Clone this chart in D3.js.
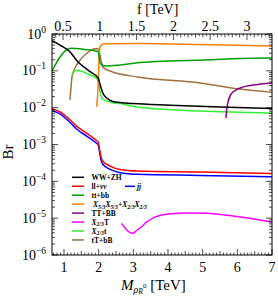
<!DOCTYPE html>
<html><head><meta charset="utf-8">
<script src="https://cdn.jsdelivr.net/npm/d3@7"></script>
<style>body{margin:0;background:#fff}svg{display:block}text{font-family:"Liberation Serif","DejaVu Serif",serif}</style>
</head><body>
<script>
// ---- data ----
const M_WW = [0.654,0.885,1.17,1.36,1.75,1.99,2.02,2.07,2.12,2.24,2.41,2.62,3.0,4.06,5.5,7.0];
const BR_WW = [0.66,0.50,0.33,0.195,0.095,0.063,0.050,0.034,0.025,0.018,0.0147,0.0138,0.0129,0.0117,0.0104,0.0095];
const M_LL = [0.654,0.885,1.17,1.37,1.66,1.93,1.99,2.03,2.07,2.12,2.33,2.62,3.13,4.92,7.0];
const BR_LL = [0.0092,0.0077,0.0047,0.0031,0.0020,0.0013,0.00115,0.0007,0.00045,0.00035,0.00026,0.00021,0.00019,0.000178,0.000162];
const M_JJ = M_LL;
const BR_JJ = [0.0082,0.0068,0.0040,0.0026,0.00167,0.0011,0.00096,0.00059,0.00037,0.00029,0.00021,0.000172,0.000155,0.000145,0.000132];
const M_TT = [0.654,0.885,1.06,1.2,1.6,1.98,2.02,2.04,2.1,2.21,2.62,3.19,4.0,5.07,6.08,7.0];
const BR_TT = [0.099,0.237,0.367,0.41,0.38,0.335,0.22,0.163,0.144,0.135,0.144,0.168,0.185,0.196,0.216,0.223];
const M_XX = [1.94,1.97,1.995,2.02,2.05,2.1,2.2,3.19,4.92,7.0];
const BR_XX = [0.0105,0.022,0.078,0.324,0.47,0.52,0.54,0.55,0.52,0.47];
const M_TTBB = [5.67,5.70,5.73,5.82,5.96,6.13,6.45,7.0];
const BR_TTBB = [0.0052,0.0098,0.0141,0.0234,0.030,0.0355,0.041,0.047];
const M_X23T = [2.66,2.79,2.90,2.99,3.08,3.19,3.39,3.62,4.09,4.58,5.07,6.02,7.0];
const BR_X23T = [7.2e-6,5.0e-6,4.1e-6,3.9e-6,4.5e-6,5.4e-6,7.9e-6,1.07e-5,1.32e-5,1.38e-5,1.35e-5,1.10e-5,7.9e-6];
const M_X23t = [1.23,1.30,1.40,1.75,1.95,2.0,2.04,2.12,2.33,2.62,3.13,4.92,7.0];
const BR_X23t = [0.077,0.099,0.102,0.077,0.062,0.047,0.027,0.017,0.0141,0.0129,0.0104,0.0081,0.0071];
const M_tT = [1.17,1.2,1.23,1.32,1.46,1.66,1.89,1.98,2.02,2.06,2.12,2.33,3.13,4.92,6.08,7.0];
const BR_tT = [0.0162,0.034,0.068,0.12,0.195,0.30,0.40,0.40,0.33,0.21,0.126,0.099,0.068,0.047,0.032,0.026];

const xTicks = [1,2,3,4,5,6,7];
const fTicks = [0.5,1,1.5,2,2.5,3];
const yExps = [0,-1,-2,-3,-4,-5,-6];

const series = [
  {name:"WW+ZH", m:M_WW, br:BR_WW, color:"#000000"},
  {name:"ll+vv", m:M_LL, br:BR_LL, color:"#ff0000"},
  {name:"jj", m:M_JJ, br:BR_JJ, color:"#0000ff"},
  {name:"tt+bb", m:M_TT, br:BR_TT, color:"#00a000"},
  {name:"XX", m:M_XX, br:BR_XX, color:"#ff8000"},
  {name:"TT+BB", m:M_TTBB, br:BR_TTBB, color:"#8c008c"},
  {name:"X23T", m:M_X23T, br:BR_X23T, color:"#ff00ff"},
  {name:"X23t", m:M_X23t, br:BR_X23t, color:"#33ee33"},
  {name:"tT+bB", m:M_tT, br:BR_tT, color:"#a0703c"}
];

// ---- layout ----
const W=278,H=299, L=52, R=272, T=34, B=255;
const svg=d3.select("body").append("svg").attr("width",W).attr("height",H);
const x=d3.scaleLinear().domain([0.654,7]).range([L,R]);
const xf=d3.scaleLinear().domain([0.35,3.34]).range([L,R]);
const y=d3.scaleLog().domain([1e-6,1]).range([B,T]);

svg.append("clipPath").attr("id","c").append("rect").attr("x",L).attr("y",T).attr("width",R-L).attr("height",B-T);
const line=d3.line().x(d=>x(d[0])).y(d=>y(d[1])).curve(d3.curveMonotoneX);
const g=svg.append("g").attr("clip-path","url(#c)");
const order=["tT+bB","X23t","X23T","TT+BB","XX","tt+bb","jj","ll+vv","WW+ZH"];
order.forEach(n=>{const s=series.find(q=>q.name===n);
  g.append("path").attr("d",line(s.m.map((m,i)=>[m,s.br[i]]))).attr("fill","none").attr("stroke",s.color).attr("stroke-width",1.5);
});

// frame
svg.append("rect").attr("x",L).attr("y",T).attr("width",R-L).attr("height",B-T).attr("fill","none").attr("stroke","#000").attr("stroke-width",1);

// ticks
const tk=svg.append("g").attr("stroke","#000").attr("stroke-width",0.7);
for(let v=0.7; v<=7.0001; v+=0.1){const vv=Math.round(v*10)/10; const px=x(vv); if(px<L+0.5) continue;
  const len = Number.isInteger(vv)?6:(Math.abs(vv*2-Math.round(vv*2))<1e-6?4:2.5);
  tk.append("line").attr("x1",px).attr("x2",px).attr("y1",B).attr("y2",B-len);}
for(let v=0.35; v<=3.34; v+=0.05){const vv=Math.round(v*100)/100; const px=xf(vv); if(px<L+0.5||px>R-0.5) continue;
  const isMaj=Math.abs(vv*2-Math.round(vv*2))<1e-6; const isMid=Math.abs(vv*10-Math.round(vv*10))<1e-6;
  const len=isMaj?6:(isMid?3.5:2.2);
  tk.append("line").attr("x1",px).attr("x2",px).attr("y1",T).attr("y2",T+len);}
for(let e=-6;e<=0;e++){for(let k=1;k<=9;k++){const v=k*Math.pow(10,e); if(v>1) continue; const py=y(v);
  const len=k===1?6:3;
  tk.append("line").attr("x1",L).attr("x2",L+len).attr("y1",py).attr("y2",py);
  tk.append("line").attr("x1",R).attr("x2",R-len).attr("y1",py).attr("y2",py);}}

// tick labels
const fs=14;
xTicks.forEach(v=>svg.append("text").attr("x",x(v)).attr("y",272).attr("text-anchor","middle").attr("font-size",fs).text(v));
fTicks.forEach(v=>svg.append("text").attr("x",xf(v)).attr("y",31).attr("text-anchor","middle").attr("font-size",fs).text(v));
yExps.forEach(e=>{const t=svg.append("text").attr("x",46).attr("y",y(Math.pow(10,e))+4.5).attr("text-anchor","end").attr("font-size",fs);
  t.append("tspan").text("10");
  t.append("tspan").attr("font-size",9.5).attr("dy",-6).text(e===0?"0":"\u2212"+(-e));});

// axis titles
svg.append("text").attr("x",137).attr("y",14).attr("font-size",14).text("f [TeV]");
svg.append("text").attr("transform","translate(13,152) rotate(-90)").attr("text-anchor","middle").attr("font-size",15).text("Br");
const bt=svg.append("text").attr("x",121).attr("y",290).attr("font-size",15);
bt.append("tspan").attr("font-style","italic").text("M");
bt.append("tspan").attr("font-style","italic").attr("font-size",10).attr("dy",3).text("\u03C1");
bt.append("tspan").attr("font-style","italic").attr("font-size",7.5).attr("dy",1).text("R");
bt.append("tspan").attr("font-size",7).attr("dy",-6).text("0");
bt.append("tspan").attr("dy",2).attr("font-size",15).text(" [TeV]");

// legend
const lg=svg.append("g").attr("font-size",7.5).attr("font-weight","bold");
const rows=[
  {c:"#000000", parts:[["WW+ZH"]]},
  {c:"#ff0000", parts:[["ll+"],["\u03BD\u03BD","it"]]},
  {c:"#00a000", parts:[["tt+bb"]]},
  {c:"#ff8000", parts:[["X","it"],["5/3","sub"],["X","it"],["5/3","sub"],["+X","it"],["2/3","sub"],["X","it"],["2/3","sub"]]},
  {c:"#8c008c", parts:[["TT+BB"]]},
  {c:"#ff00ff", parts:[["X","it"],["2/3","sub"],["T"]]},
  {c:"#33ee33", parts:[["X","it"],["2/3","sub"],["t"]]},
  {c:"#a0703c", parts:[["tT+bB"]]}
];
rows.forEach((r,i)=>{const yy=177.3+i*8.95;
  lg.append("line").attr("x1",72).attr("x2",84).attr("y1",yy).attr("y2",yy).attr("stroke",r.c).attr("stroke-width",1.5);
  const t=lg.append("text").attr("x",i===3?93:91.5).attr("y",yy+2.6);
  let sub=false;
  r.parts.forEach(p=>{const sp=t.append("tspan").text(p[0]);
    if(p[1]==="it") sp.attr("font-style","italic");
    if(p[1]==="sub"){sp.attr("font-size",5.8).attr("dy",sub?0:1.8).attr("font-style","italic"); sub=true;}
    else if(sub){sp.attr("dy",-1.8); sub=false;}
  });
});
lg.append("line").attr("x1",125).attr("x2",135).attr("y1",186.3).attr("y2",186.3).attr("stroke","#0000ff").attr("stroke-width",1.5);
lg.append("text").attr("x",137).attr("y",188.9).attr("font-style","italic").text("jj");
</script>
</body></html>
